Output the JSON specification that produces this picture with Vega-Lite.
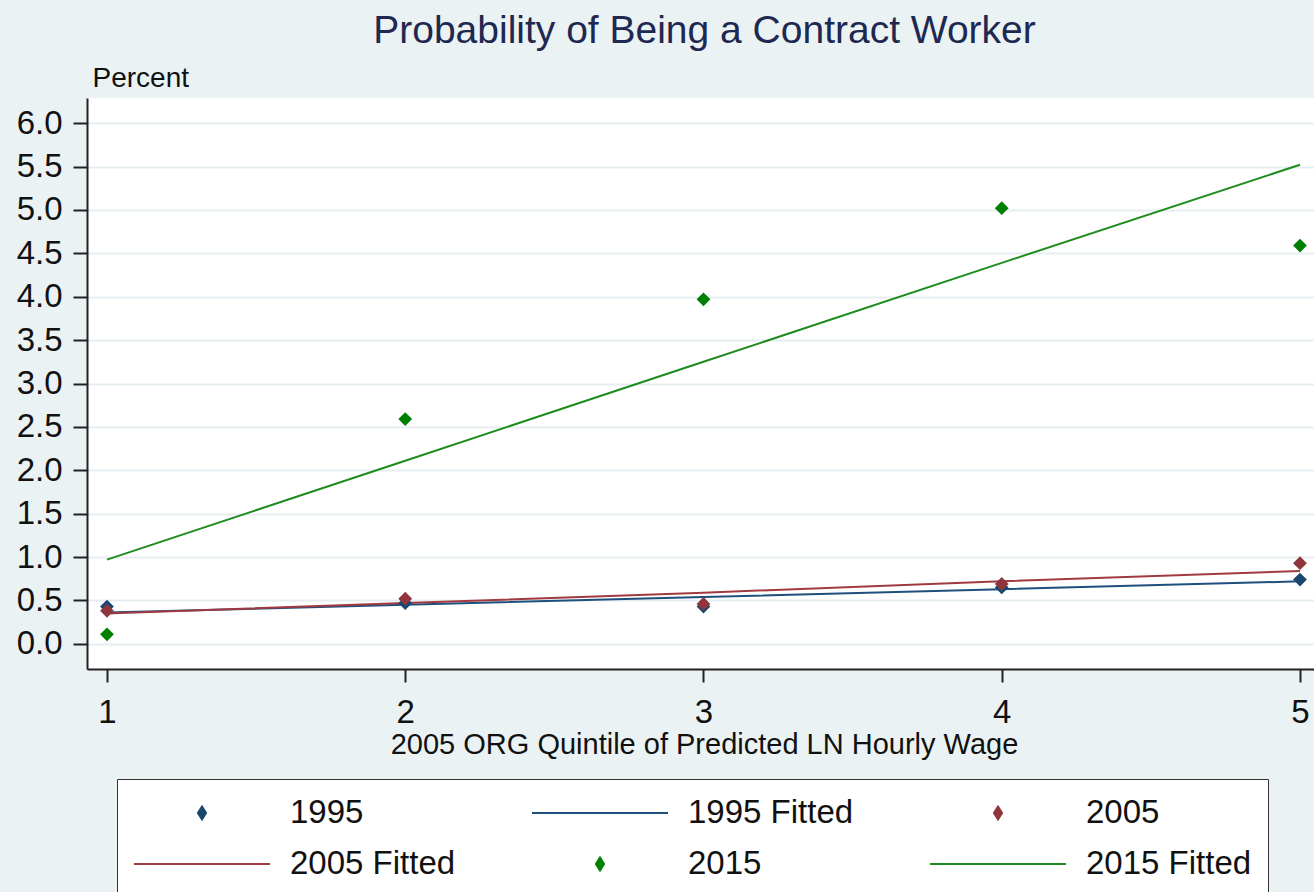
{
  "$schema": "https://vega.github.io/schema/vega-lite/v6.json",
  "width": 1227,
  "height": 571,
  "autosize": {"type": "none"},
  "padding": {"left": 87, "top": 98, "right": 0, "bottom": 223},
  "background": "#eaf2f3",
  "config": {
    "font": "Liberation Sans",
    "view": {"stroke": null, "fill": "white"}
  },
  "title": {
    "text": "Probability of Being a Contract Worker",
    "fontSize": 39,
    "fontWeight": "normal",
    "color": "#1e2850",
    "anchor": "middle",
    "frame": "group",
    "offset": 13,
    "dx": 4
  },
  "data": {
    "values": [
      {"q": 1, "series": "1995", "kind": "obs", "pct": 0.43},
      {"q": 2, "series": "1995", "kind": "obs", "pct": 0.47},
      {"q": 3, "series": "1995", "kind": "obs", "pct": 0.43},
      {"q": 4, "series": "1995", "kind": "obs", "pct": 0.65},
      {"q": 5, "series": "1995", "kind": "obs", "pct": 0.74},
      {"q": 1, "series": "2005", "kind": "obs", "pct": 0.38},
      {"q": 2, "series": "2005", "kind": "obs", "pct": 0.52},
      {"q": 3, "series": "2005", "kind": "obs", "pct": 0.46},
      {"q": 4, "series": "2005", "kind": "obs", "pct": 0.69},
      {"q": 5, "series": "2005", "kind": "obs", "pct": 0.93},
      {"q": 1, "series": "2015", "kind": "obs", "pct": 0.11},
      {"q": 2, "series": "2015", "kind": "obs", "pct": 2.59},
      {"q": 3, "series": "2015", "kind": "obs", "pct": 3.97},
      {"q": 4, "series": "2015", "kind": "obs", "pct": 5.02},
      {"q": 5, "series": "2015", "kind": "obs", "pct": 4.59},
      {"q": 1, "series": "1995 Fitted", "kind": "fit", "pct": 0.36},
      {"q": 2, "series": "1995 Fitted", "kind": "fit", "pct": 0.45},
      {"q": 3, "series": "1995 Fitted", "kind": "fit", "pct": 0.54},
      {"q": 4, "series": "1995 Fitted", "kind": "fit", "pct": 0.63},
      {"q": 5, "series": "1995 Fitted", "kind": "fit", "pct": 0.72},
      {"q": 1, "series": "2005 Fitted", "kind": "fit", "pct": 0.35},
      {"q": 2, "series": "2005 Fitted", "kind": "fit", "pct": 0.47},
      {"q": 3, "series": "2005 Fitted", "kind": "fit", "pct": 0.59},
      {"q": 4, "series": "2005 Fitted", "kind": "fit", "pct": 0.72},
      {"q": 5, "series": "2005 Fitted", "kind": "fit", "pct": 0.84},
      {"q": 1, "series": "2015 Fitted", "kind": "fit", "pct": 0.97},
      {"q": 2, "series": "2015 Fitted", "kind": "fit", "pct": 2.11},
      {"q": 3, "series": "2015 Fitted", "kind": "fit", "pct": 3.25},
      {"q": 4, "series": "2015 Fitted", "kind": "fit", "pct": 4.39},
      {"q": 5, "series": "2015 Fitted", "kind": "fit", "pct": 5.52}
    ]
  },
  "encoding": {
    "x": {
      "field": "q",
      "type": "quantitative",
      "scale": {"domain": [0.933, 5.047], "nice": false, "zero": false},
      "axis": {
        "values": [1, 2, 3, 4, 5],
        "format": "d",
        "grid": false,
        "tickSize": 13,
        "tickWidth": 2,
        "tickColor": "#222222",
        "domainColor": "#222222",
        "domainWidth": 2,
        "labelFontSize": 33,
        "labelColor": "#111111",
        "labelPadding": 14,
        "labelFlush": false,
        "labelOverlap": false,
        "title": "2005 ORG Quintile of Predicted LN Hourly Wage",
        "titleFontSize": 29,
        "titleFontWeight": "normal",
        "titleColor": "#111111",
        "titleBaseline": "alphabetic",
        "titleX": 617,
        "titleY": 84
      }
    },
    "y": {
      "field": "pct",
      "type": "quantitative",
      "scale": {"domain": [-0.29, 6.29], "nice": false, "zero": false},
      "axis": {
        "values": [0, 0.5, 1, 1.5, 2, 2.5, 3, 3.5, 4, 4.5, 5, 5.5, 6],
        "format": ".1f",
        "grid": true,
        "gridColor": "#e6eef1",
        "gridWidth": 2,
        "tickSize": 14,
        "tickWidth": 2,
        "tickColor": "#222222",
        "domainColor": "#222222",
        "domainWidth": 2,
        "labelFontSize": 33,
        "labelColor": "#111111",
        "labelPadding": 11,
        "labelOverlap": false,
        "title": "Percent",
        "titleAngle": 0,
        "titleAlign": "left",
        "titleBaseline": "alphabetic",
        "titleFontSize": 28,
        "titleFontWeight": "normal",
        "titleColor": "#111111",
        "titleX": 5,
        "titleY": -12
      }
    },
    "color": {
      "field": "series",
      "type": "nominal",
      "scale": {
        "domain": ["1995", "2005 Fitted", "1995 Fitted", "2015", "2005", "2015 Fitted"],
        "range": ["#1a476f", "#a03a40", "#1f4f7d", "#008000", "#90353b", "#1e8c1e"]
      },
      "legend": {
        "orient": "none",
        "legendX": 30,
        "legendY": 681,
        "columns": 3,
        "columnPadding": 72,
        "rowPadding": 16,
        "padding": 16,
        "fillColor": "white",
        "strokeColor": "#333333",
        "title": null,
        "symbolType": "M-1,0L7,0",
        "symbolSize": 1156,
        "symbolStrokeWidth": 2,
        "labelFontSize": 33,
        "labelColor": "#111111",
        "labelOffset": 121,
        "labelLimit": 400,
        "encode": {
          "symbols": {
            "update": {
              "shape": {"signal": "indexof(datum.value, 'Fitted') >= 0 ? 'M-1,0L7,0' : 'M2.76,0L3,-0.38L3.24,0L3,0.38Z'"},
              "fill": {"scale": "color", "field": "value"},
              "stroke": {"scale": "color", "field": "value"}
            }
          }
        }
      }
    }
  },
  "layer": [
    {
      "transform": [{"filter": "datum.kind === 'fit'"}],
      "mark": {"type": "line", "strokeWidth": 2}
    },
    {
      "transform": [{"filter": "datum.kind === 'obs'"}],
      "mark": {"type": "point", "shape": "diamond", "filled": true, "size": 190, "opacity": 1}
    }
  ]
}
